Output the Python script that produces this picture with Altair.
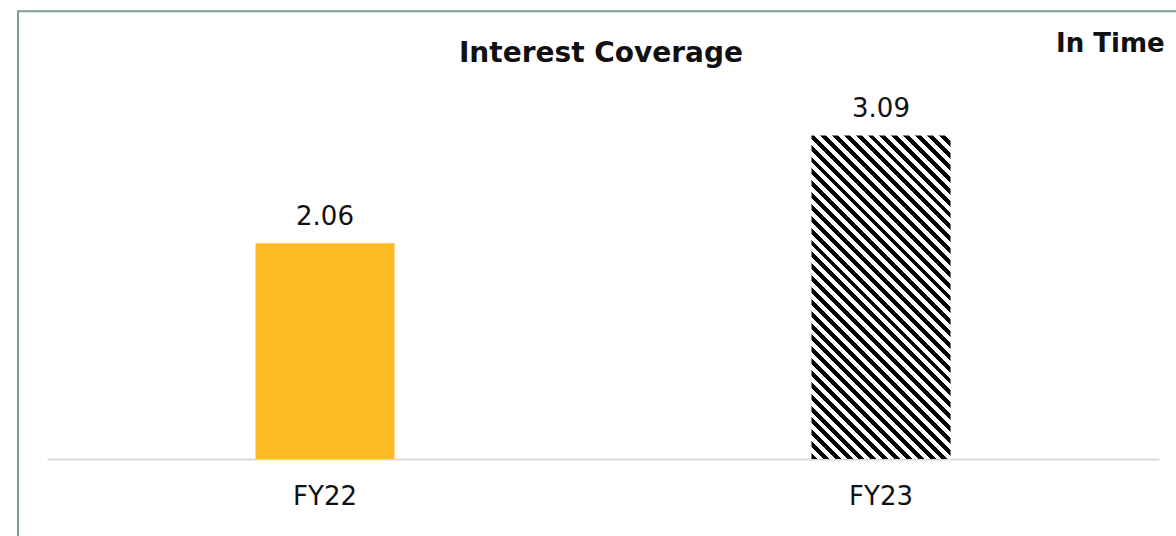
import altair as alt
import pandas as pd

# ---- data ----
years = ["FY22", "FY23"]
coverage = [2.06, 3.09]
value_labels = ["2.06", "3.09"]
title_text = ["Interest Coverage"]
unit_text = ["In Time"]

df = pd.DataFrame({"year": years, "value": coverage, "label": value_labels})

# ---- layout constants ----
W, H = 1112, 377
YMAX = 3.6
BAR = 139
FONT = "DejaVu Sans"
YELLOW = "#FDBB21"
BORDER = "#7F9F97"

# hatched fill (black/white diagonal stripes) as a hard-stop linear gradient
hatch_h = coverage[1] * H / YMAX
hatch_w = BAR
k = (hatch_w + hatch_h) / (hatch_w ** 2 + hatch_h ** 2)
gx2 = k * hatch_w
gy2 = 1 - k * hatch_h
N = 39
stops = []
for i in range(N):
    t0 = i / N
    tm = (i + 0.5) / N
    t1 = (i + 1) / N
    stops += [
        alt.GradientStop(offset=t0, color="#000000"),
        alt.GradientStop(offset=tm, color="#000000"),
        alt.GradientStop(offset=tm, color="#ffffff"),
        alt.GradientStop(offset=t1, color="#ffffff"),
    ]
hatch = alt.LinearGradient(gradient="linear", stops=stops, x1=0, y1=1, x2=gx2, y2=gy2)

x_enc = alt.X(
    "year:N",
    sort=years,
    scale=alt.Scale(paddingInner=0, paddingOuter=0),
    axis=alt.Axis(
        title=None,
        labelAngle=0,
        ticks=False,
        tickSize=0,
        labelPadding=24,
        labelFont=FONT,
        labelFontSize=26,
        labelColor="#111111",
        domainColor="#D9D9D9",
        domainWidth=2,
        grid=False,
    ),
)
y_enc = alt.Y("value:Q", scale=alt.Scale(domain=[0, YMAX], nice=False), axis=None)

base = alt.Chart(df)

bar_a = base.transform_filter(alt.datum.year == years[0]).mark_bar(size=BAR, fill=YELLOW).encode(x=x_enc, y=y_enc)
bar_b = base.transform_filter(alt.datum.year == years[1]).mark_bar(size=BAR, fill=hatch).encode(x=x_enc, y=y_enc)

labels = base.mark_text(
    font=FONT, fontSize=26, baseline="alphabetic", dy=-18, color="#111111"
).encode(x=x_enc, y=y_enc, text="label:N")

title = alt.Chart(pd.DataFrame({"t": title_text})).mark_text(
    font=FONT, fontSize=28, fontWeight="bold", baseline="alphabetic", align="center", color="#111111"
).encode(x=alt.value(554), y=alt.value(-20), text="t:N")

unit = alt.Chart(pd.DataFrame({"t": unit_text})).mark_text(
    font=FONT, fontSize=26, fontWeight="bold", baseline="alphabetic", align="left", color="#111111"
).encode(x=alt.value(1009), y=alt.value(-30), text="t:N")

border = alt.Chart(pd.DataFrame({"b": [0]})).mark_rect(
    fillOpacity=0, stroke=BORDER, strokeWidth=2
).encode(x=alt.value(-29), x2=alt.value(1300), y=alt.value(-70.7), y2=alt.value(700))

chart = (
    alt.layer(border, bar_a, bar_b, labels, title, unit)
    .properties(
        width=W,
        height=H,
        autosize=alt.AutoSizeParams(type="none"),
        padding={"left": 47, "top": 82, "right": 17, "bottom": 77},
        background="white",
    )
    .configure_view(stroke=None)
)

chart.save("out.html", embed_options={"renderer": "svg", "actions": False})
